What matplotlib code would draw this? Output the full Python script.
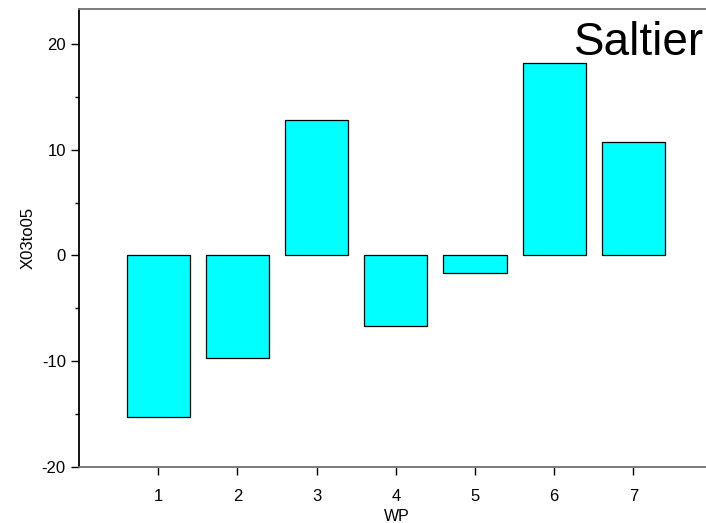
import numpy as np
import matplotlib.pyplot as plt
from matplotlib.ticker import MultipleLocator

plt.rcParams['font.family'] = ['Liberation Sans', 'DejaVu Sans']
plt.rcParams['axes.unicode_minus'] = False

# Dados
wp = [1, 2, 3, 4, 5, 6, 7]
x03to05 = [-15.3, -9.7, 12.85, -6.7, -1.7, 18.15, 10.7]

fig = plt.figure(figsize=(7.06, 5.23), dpi=100)
# eixo vai além da borda direita, como na imagem original
ax = fig.add_axes([79 / 706, 1 - 467 / 523, 633.6 / 706, 458 / 523])

ax.bar(wp, x03to05, width=0.8, color='#00ffff', edgecolor='black', linewidth=0.9)

ax.set_xlim(0, 8)
ax.set_ylim(-20, 23.3)
ax.set_xticks(wp)
ax.yaxis.set_major_locator(MultipleLocator(10))
ax.yaxis.set_minor_locator(MultipleLocator(5))

ax.spines['right'].set_visible(False)
ax.spines['top'].set_color('#707070')
ax.spines['bottom'].set_color('#707070')
ax.spines['left'].set_color('black')
for s in ['top', 'bottom', 'left']:
    ax.spines[s].set_linewidth(1.3)

ax.tick_params(axis='both', which='major', length=6, width=1, labelsize=12, direction='out')
ax.tick_params(axis='y', which='minor', length=3, width=1)
ax.tick_params(axis='x', pad=10)

ax.set_xlabel('WP', fontsize=11.5)
ax.set_ylabel('X03to05', fontsize=12)
ax.xaxis.set_label_coords((397 - 79) / 633.6, -0.092)
ax.yaxis.set_label_coords(-0.068, 0.5)

fig.text(704 / 706, 1 - 55 / 523, 'Saltier', fontsize=33, ha='right', va='baseline')

fig.savefig('out.png', dpi=100)
